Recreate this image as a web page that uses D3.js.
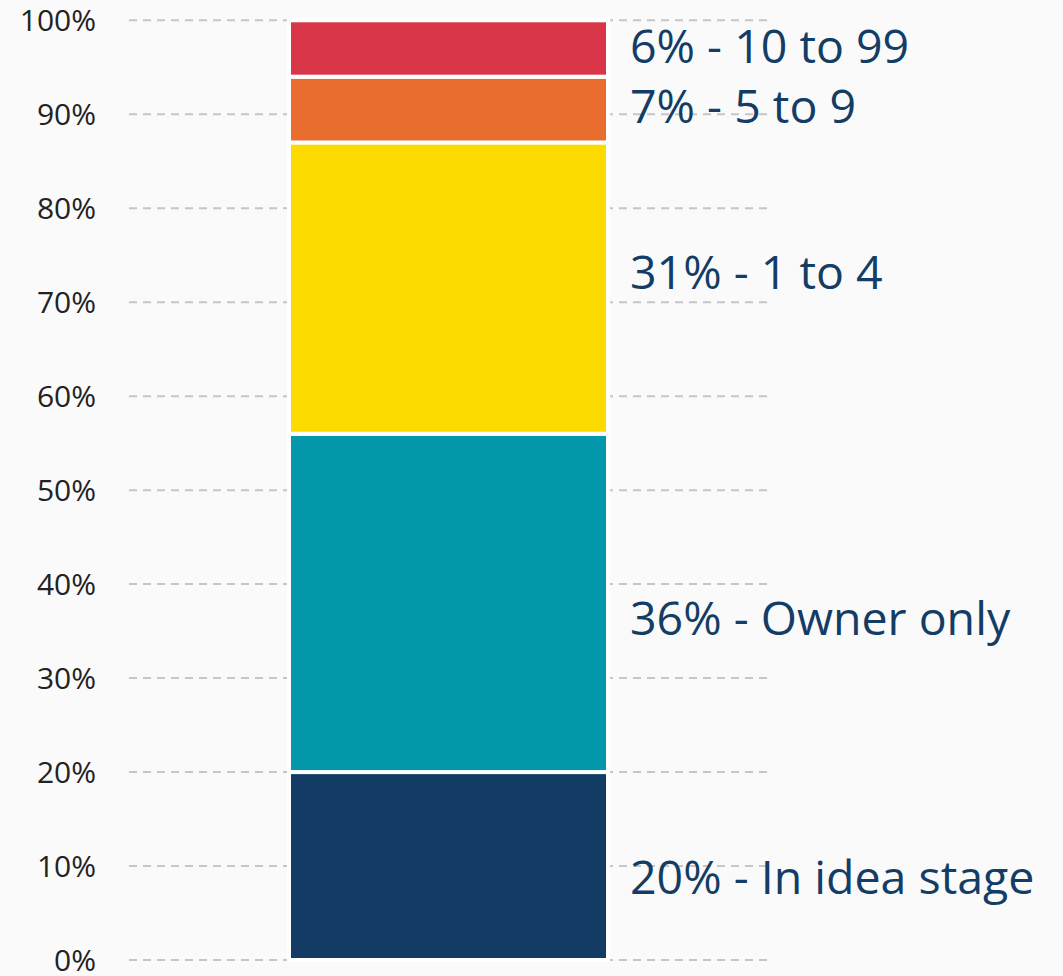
<!DOCTYPE html>
<html>
<head>
<meta charset="utf-8">
<script src="https://cdn.jsdelivr.net/npm/d3@7"></script>
<style>
  html, body { margin: 0; padding: 0; background: #fafafa; }
  svg { display: block; }
</style>
</head>
<body>
<svg id="chart" width="1063" height="976"></svg>
<script>
// Business size shares, stacked bottom to top
const categories = ["In idea stage", "Owner only", "1 to 4", "5 to 9", "10 to 99"];
const shares = [20, 36, 31, 7, 6];
const colors = ["#133c64", "#0497ab", "#fddb00", "#e86d2f", "#d93548"];
const tickValues = [0, 10, 20, 30, 40, 50, 60, 70, 80, 90, 100];
const tickLabels = ["0%", "10%", "20%", "30%", "40%", "50%", "60%", "70%", "80%", "90%", "100%"];

const svg = d3.select("#chart");

const y = d3.scaleLinear().domain([0, 100]).range([960, 20.3]);

// Build stacked segments
const row = { key: "all" };
categories.forEach((c, i) => row[c] = shares[i]);
const stacked = d3.stack().keys(categories)([row]);

// Dashed gridlines spanning the plot
svg.append("g")
  .selectAll("line")
  .data(tickValues)
  .join("line")
  .attr("x1", 129)
  .attr("x2", 767)
  .attr("y1", d => y(d))
  .attr("y2", d => y(d))
  .attr("stroke", "#c6c6c6")
  .attr("stroke-width", 2)
  .attr("stroke-dasharray", "8,6");

// Y axis labels
svg.append("g")
  .selectAll("text")
  .data(tickValues)
  .join("text")
  .attr("x", 96)
  .attr("y", d => y(d))
  .attr("dy", "0.35em")
  .attr("text-anchor", "end")
  .attr("font-family", "'Open Sans', 'Noto Sans', sans-serif")
  .attr("font-size", 30)
  .attr("fill", "#222222")
  .text((d, i) => tickLabels[i]);

// Bar segments with white separators
const barX = 289, barW = 608 - 289;
svg.append("g")
  .selectAll("rect")
  .data(stacked)
  .join("rect")
  .attr("x", barX)
  .attr("width", barW)
  .attr("y", s => y(s[0][1]))
  .attr("height", s => y(s[0][0]) - y(s[0][1]))
  .attr("fill", (s, i) => colors[i])
  .attr("stroke", "#ffffff")
  .attr("stroke-width", 4);

// Segment labels beside the bar, spread a little to avoid crowding
const labelNudge = [11, 15, -16, -3, -2];
svg.append("g")
  .selectAll("text")
  .data(stacked)
  .join("text")
  .attr("x", 630)
  .attr("y", (s, i) => y((s[0][0] + s[0][1]) / 2) + labelNudge[i])
  .attr("dy", "0.36em")
  .attr("font-family", "'Open Sans', 'Noto Sans', sans-serif")
  .attr("font-size", 46.5)
  .attr("fill", "#133d66")
  .text((s, i) => `${shares[i]}% - ${categories[i]}`);
</script>
</body>
</html>
